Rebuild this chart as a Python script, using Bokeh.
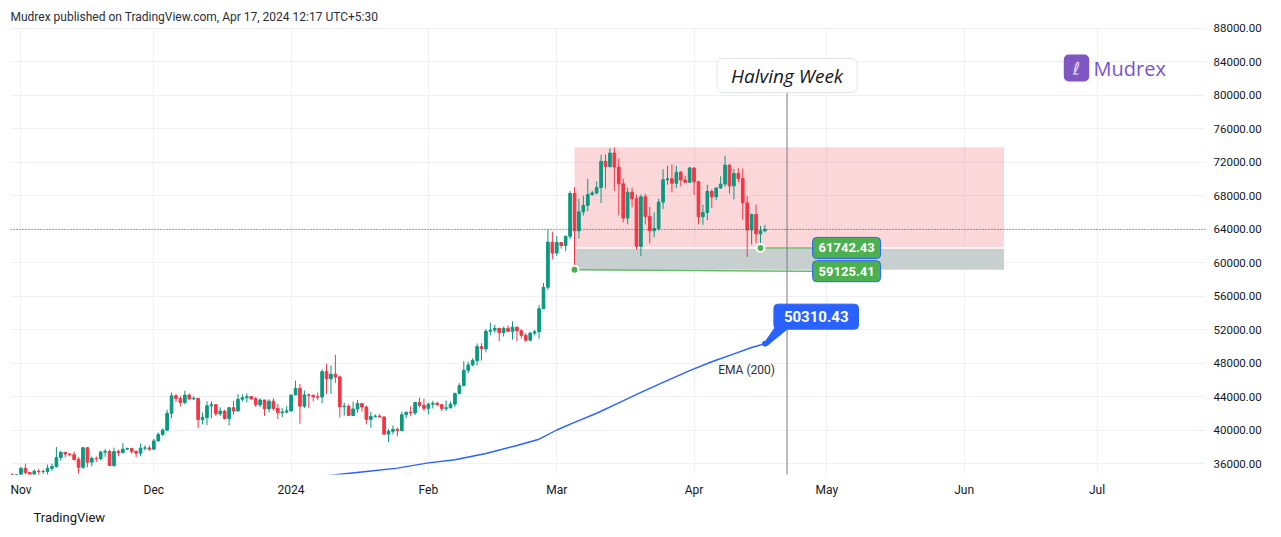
import pandas as pd
from bokeh.plotting import figure
from bokeh.models import Range1d, FixedTicker, NumeralTickFormatter, Label, Span, Title
from bokeh.embed import file_html
from bokeh.resources import INLINE

# ---------------- data (BTC daily candles) ----------------
first_day = "2023-10-30"
opens = [34530, 34490,
         34650, 35420, 34940, 34730, 35080, 35040, 35050, 35420, 35630, 36700, 37320, 37130, 37060, 36490, 35550,
         37880, 36160, 36600, 36570, 37360, 37450, 35750, 37420, 37290, 37720, 37800, 37450, 37240, 37830, 37860,
         37710, 38690, 39470, 39980, 41990, 44080, 43770, 43290, 44170, 43720, 43790, 41240, 41480, 42890, 43020,
         41940, 42260, 41370, 42660, 42270, 43670, 43860, 43990, 43730, 43010, 43580, 42520, 43440, 42580, 42070, 42140,
         42280, 44180, 44960, 42850, 44190, 44160, 43970, 43930, 46970, 46120, 46660, 46340, 42780, 42840, 41730,
         42510, 43150, 42740, 41270, 41620, 41660, 41550, 39510, 39850, 40080, 39930, 41820, 42120, 42030, 43300, 42940,
         42580, 43080, 43190, 43010, 42580, 42660, 43090, 44340, 45290, 47130, 47770, 48290, 49960, 49700, 51800,
         51930, 52140, 51640, 52130, 51780, 52270, 51840, 51300, 50730, 51570, 51730, 54480, 57040, 62430,
         61130, 62390, 62030, 63130, 68240, 63780, 66060, 66820, 68120, 68310, 68950, 72080, 71450, 73070, 71390,
         69400, 65300, 68390, 67610, 61930, 67840, 65500, 63800, 64050, 67210, 69880, 69990, 69460, 70780, 69850, 69580,
         71290, 69650, 65460, 65960, 68500, 67840, 68900, 69360, 71620, 69150, 70630, 70010, 67120, 63900, 65740, 63420,
         63790]
highs = [34850, 34720,
         35580, 35980, 34950, 35280, 35380, 35280, 35890, 35980, 37970, 37520, 37410, 37230, 37420, 36760, 37980,
         37930, 36850, 36850, 37520, 37750, 37650, 37890, 37650, 38430, 37890, 37830, 37560, 38380, 38170, 38150,
         38950, 39700, 40200, 42420, 44490, 44300, 44050, 44700, 44360, 44040, 43800, 42100, 43430, 43420, 43090,
         42720, 42430, 42750, 43480, 44280, 44240, 44370, 43990, 43940, 43800, 43600, 43680, 43800, 43120, 42610, 42890,
         44200, 45900, 45500, 44730, 44340, 44200, 44490, 47250, 47900, 47700, 48970, 46500, 43260, 43070, 43400,
         43580, 43200, 42930, 42140, 41870, 41880, 41680, 40130, 40550, 40300, 42200, 42200, 42840, 43310, 43880, 43750,
         43280, 43480, 43380, 43120, 43540, 43400, 44480, 45600, 48200, 48170, 48570, 50330, 50370, 52040, 52820,
         52570, 52200, 52350, 52490, 52980, 52380, 52030, 51550, 51690, 51960, 54940, 57550, 63900, 63680,
         63170, 62430, 63220, 68540, 69000, 67630, 67980, 69990, 68570, 69680, 72870, 72920, 73650, 73750, 72420,
         70000, 68900, 68930, 68120, 68100, 68200, 66650, 65980, 67600, 71150, 71560, 71730, 71550, 70920, 70330, 71370,
         71340, 69680, 66900, 69290, 68720, 69000, 70300, 72750, 71750, 71170, 71280, 71230, 67930, 65840, 66900,
         64360, 64480]
lows = [34070, 34080,
        34100, 34300, 34100, 34580, 34530, 34740, 34530, 35120, 35530, 36340, 36720, 36860, 36340, 34800, 35360,
        35550, 35650, 36180, 36390, 36800, 35720, 35630, 36870, 37250, 37600, 37150, 36750, 36870, 37570, 37510,
        37610, 38650, 39280, 39980, 41420, 43340, 42820, 43080, 43580, 43570, 40220, 40680, 40600, 41420, 41660,
        41680, 41250, 40530, 41820, 42220, 43410, 43290, 43580, 42760, 42720, 41680, 42100, 42300, 41300, 41520, 41970,
        42180, 44180, 40750, 42620, 42630, 43400, 43570, 43200, 44300, 44300, 45610, 41500, 41720, 41720, 41720,
        42050, 42200, 40680, 40280, 41470, 41500, 39430, 38550, 39480, 39250, 39820, 41400, 41630, 41800, 42690, 42290,
        41880, 42570, 42880, 42250, 42260, 42570, 42780, 44330, 45240, 46800, 47620, 47700, 48300, 49260, 51300,
        51600, 50620, 51160, 51680, 50790, 50630, 50920, 50530, 50580, 51300, 50900, 54450, 56700, 60360,
        60790, 61660, 61330, 62800, 59125.41, 62850, 65600, 66130, 67950, 68130, 67100, 68830, 71340, 68560, 65630,
        64800, 64550, 66600, 61550, 60775, 64550, 62260, 63000, 63800, 66400, 69280, 68380, 68900, 69100, 69560, 69570,
        68060, 64550, 64490, 65060, 66500, 67450, 68800, 69040, 68210, 67520, 69570, 65090, 60660, 62130, 62300,
        61742.43, 63600]
closes = [34490, 34650,
          35420, 34940, 34730, 35080, 35040, 35050, 35420, 35630, 36700, 37320, 37130, 37060, 36490, 35550, 37880,
          36160, 36600, 36570, 37360, 37450, 35750, 37420, 37290, 37720, 37800, 37450, 37240, 37830, 37860, 37710,
          38690, 39470, 39980, 41990, 44080, 43770, 43290, 44170, 43720, 43790, 41240, 41480, 42890, 43020, 41940,
          42260, 41370, 42660, 42270, 43670, 43860, 43990, 43730, 43010, 43580, 42520, 43440, 42580, 42070, 42140, 42280,
          44180, 44960, 42850, 44190, 44160, 43970, 43930, 46970, 46120, 46660, 46340, 42780, 42840, 41730, 42510,
          43150, 42740, 41270, 41620, 41660, 41550, 39510, 39850, 40080, 39930, 41820, 42120, 42030, 43300, 42940, 42580,
          43080, 43190, 43010, 42580, 42660, 43090, 44340, 45290, 47130, 47770, 48290, 49960, 49700, 51800, 51930,
          52140, 51640, 52130, 51780, 52270, 51840, 51300, 50730, 51570, 51730, 54480, 57040, 62430, 61130,
          62390, 62030, 63130, 68240, 63780, 66060, 66820, 68120, 68310, 68950, 72080, 71450, 73070, 71390, 69400,
          65300, 68390, 67610, 61930, 67840, 65500, 63800, 64050, 67210, 69880, 69990, 69460, 70780, 69850, 69580, 71290,
          69650, 65460, 65960, 68500, 67840, 68900, 69360, 71620, 69150, 70630, 70010, 67120, 63900, 65740, 63420,
          63790, 63950]

ema_dates = ["2024-01-05", "2024-01-11", "2024-01-18", "2024-01-25", "2024-02-01", "2024-02-07", "2024-02-14",
             "2024-02-21", "2024-02-26", "2024-03-01", "2024-03-05", "2024-03-10", "2024-03-15", "2024-03-20",
             "2024-03-25", "2024-03-31", "2024-04-05", "2024-04-10", "2024-04-14", "2024-04-17"]
ema_values = [34350, 34650, 35050, 35450, 36080, 36450, 37200, 38150, 38900, 40000, 40900, 42000, 43250, 44500,
              45700, 47100, 48150, 49100, 49850, 50310.43]

month_dates = ["2023-11-01", "2023-12-01", "2024-01-01", "2024-02-01", "2024-03-01", "2024-04-01",
               "2024-05-01", "2024-06-01", "2024-07-01"]
month_labels = ["Nov", "Dec", "2024", "Feb", "Mar", "Apr", "May", "Jun", "Jul"]
price_ticks = [36000, 40000, 44000, 48000, 52000, 56000, 60000, 64000, 68000, 72000, 76000, 80000, 84000, 88000]

zone_start, zone_end = "2024-03-05", "2024-06-10"
zone_top, zone_mid, zone_bottom = 73750.0, 61742.43, 59125.41
support_dates = ["2024-03-05", "2024-04-16"]
support_prices = [59125.41, 61742.43]
support_end_date = "2024-04-28"
support_end_prices = [58960.0, 61742.43]
halving_date = "2024-04-22"

# ---------------- helpers ----------------
origin = pd.Timestamp("2023-11-01")
def day(d):
    return (pd.Timestamp(d) - origin).days

dates = pd.date_range(first_day, periods=len(closes), freq="D")
xs = [(d - origin).days for d in dates]
month_x = [day(d) for d in month_dates]
ema_x = [day(d) for d in ema_dates]

X0, X1 = -2.37, 267.5
Y0, Y1 = 34687.0, 88060.0
FW, FH = 1195, 447
def dxp(px):
    return px * (X1 - X0) / FW
def dyp(px):
    return px * (Y1 - Y0) / FH

GREEN, RED = "#089981", "#f23645"
TEXT = "#131722"

p = figure(width=1280, height=536, output_backend="svg", toolbar_location=None,
           x_range=Range1d(X0, X1), y_range=Range1d(Y0, Y1), y_axis_location="right",
           min_border_left=10, min_border_right=75, min_border_top=27, min_border_bottom=62,
           background_fill_color="white", border_fill_color="white", outline_line_color=None)

# header and footer
p.title = Title(text="Mudrex published on TradingView.com, Apr 17, 2024 12:17 UTC+5:30", align="left",
                text_font="Roboto", text_font_size="12px", text_font_style="normal", text_color="#2a2e39",
                standoff=7)
p.add_layout(Title(text="TradingView", align="left", offset=23, text_font="Roboto", text_font_size="13px",
                   text_font_style="normal", text_color=TEXT, standoff=16), "below")

# axes
p.xaxis.ticker = FixedTicker(ticks=month_x)
p.xaxis.major_label_overrides = {mx: lab for mx, lab in zip(month_x, month_labels)}
p.yaxis.ticker = FixedTicker(ticks=price_ticks)
p.yaxis.formatter = NumeralTickFormatter(format="0.00")
for ax in (p.xaxis[0], p.yaxis[0]):
    ax.axis_line_color = None
    ax.major_tick_in = 0
    ax.major_tick_out = 0
    ax.minor_tick_in = 0
    ax.minor_tick_out = 0
    ax.major_label_text_font = "Roboto"
    ax.major_label_text_color = TEXT
    ax.major_label_standoff = 8
p.xaxis.major_label_text_font_size = "12px"
p.yaxis.major_label_text_font_size = "11.5px"
p.xgrid.grid_line_color = "#eef0f5"
p.ygrid.grid_line_color = "#eef0f5"

# zone rectangles
p.quad(left=[day(zone_start)], right=[day(zone_end)], top=[zone_top], bottom=[zone_mid],
       fill_color="#f23645", fill_alpha=0.2, line_color=None)
p.quad(left=[day(zone_start)], right=[day(zone_end)], top=[zone_mid], bottom=[zone_bottom],
       fill_color="#c8d0cf", line_color=None)
p.segment(x0=[day(zone_start)], y0=[zone_mid], x1=[day(zone_end)], y1=[zone_mid],
          line_color="white", line_width=1.5)

# last price line
p.add_layout(Span(location=closes[-1], dimension="width", line_color="#0b6e5e",
                  line_dash="1 2", line_width=1))

# candles
colors = [GREEN if c >= o else RED for o, c in zip(opens, closes)]
tops = [max(o, c) for o, c in zip(opens, closes)]
bots = [min(o, c) for o, c in zip(opens, closes)]
p.segment(x0=xs, y0=highs, x1=xs, y1=lows, line_color=colors, line_width=1)
p.vbar(x=xs, width=0.6, top=tops, bottom=bots, fill_color=colors, line_color=colors, line_width=1)

# EMA 200
p.line(ema_x, ema_values, line_color="#2962ff", line_width=1.4)

# halving line
hd = day(halving_date)
halving_label_y = Y1 - dyp(48)
p.segment(x0=[hd], y0=[halving_label_y - dyp(17)], x1=[hd], y1=[Y0 - 5000],
          line_color="#787b86", line_width=1)

# support lines and dots
se = day(support_end_date)
sx = [day(d) for d in support_dates]
for x0_, y0_, y1_ in zip(sx, support_prices, support_end_prices):
    p.line([x0_, se], [y0_, y1_], line_color="#4caf50", line_width=1.5, line_alpha=0.85)
p.scatter(sx, support_prices, size=8, fill_color="#4caf50", line_color="white", line_width=2)

# EMA callout pointer + dot
ex, ey = ema_x[-1], ema_values[-1]
p.patch([ex - dxp(1), ex + dxp(2), ex + dxp(24), ex + dxp(10)],
        [ey, ey - dyp(2), ey + dyp(16), ey + dyp(16)], color="#2962ff")
p.scatter([ex], [ey], size=5, color="#2962ff")

# ---------------- annotations ----------------
def tag(x, y, text, bg, border, size, xo=0, yo=0, pad=(6, 6)):
    return Label(x=x, y=y, x_offset=xo, y_offset=yo, text=text, text_align="left", text_baseline="middle",
                 text_color="white", text_font="Roboto", text_font_size=size, text_font_style="bold",
                 background_fill_color=bg, border_line_color=border, border_line_width=1, border_radius=4,
                 padding=dict(left=pad[0], right=pad[0], top=pad[1], bottom=pad[1]))

p.add_layout(tag(se, support_end_prices[1], f"{support_end_prices[1]:.2f}", "#4caf50", "#2962ff", "13px",
                 xo=-1, pad=(6, 6)))
p.add_layout(tag(se, support_end_prices[0], f"{support_prices[0]:.2f}", "#4caf50", "#2962ff", "13px",
                 xo=-1, pad=(6, 6)))
p.add_layout(tag(ex, ey, f"{ey:.2f}", "#2962ff", "#2962ff", "15px", xo=9, yo=27, pad=(10, 7)))

p.add_layout(Label(x=ex, y=ey, x_offset=10, y_offset=-26, text="EMA (200)", text_align="right",
                   text_baseline="middle", text_font="Roboto", text_font_size="12px", text_color="#2a2e39"))

p.add_layout(Label(x=hd, y=halving_label_y, text="Halving Week", text_align="center", text_baseline="middle",
                   text_font="Open Sans", text_font_style="italic", text_font_size="19px", text_color=TEXT,
                   background_fill_color="white", border_line_color="#e0e3eb", border_line_width=1,
                   border_radius=6, padding=dict(left=14, right=14, top=4, bottom=4)))

# Mudrex logo
p.add_layout(Label(x=1066, y=406.5, x_units="screen", y_units="screen", text="ℓ", text_align="center",
                   text_baseline="middle", text_font="DejaVu Sans", text_font_size="18px",
                   text_font_style="italic", text_color="#e4d8ff", background_fill_color="#7e57c2",
                   border_radius=5, padding=dict(left=9, right=9, top=3, bottom=3)))
p.add_layout(Label(x=1083, y=406, x_units="screen", y_units="screen", text="Mudrex", text_baseline="middle",
                   text_font="Open Sans", text_font_size="20px", text_color="#7b52d0"))

open("out.html", "w").write(file_html(p, INLINE))
